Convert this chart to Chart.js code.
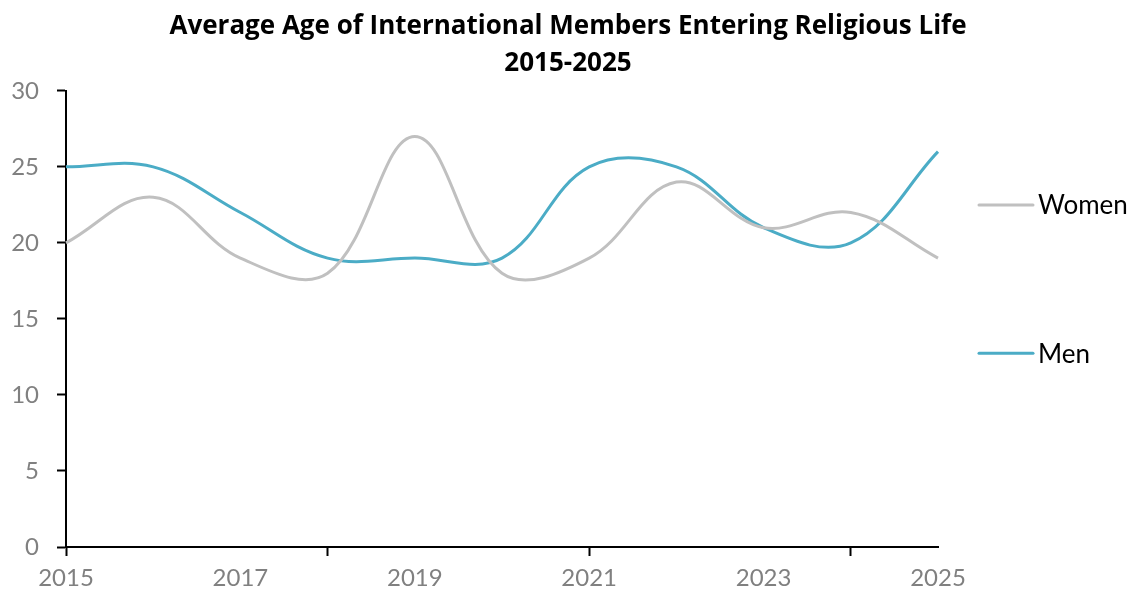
<!DOCTYPE html>
<html>
<head>
<meta charset="utf-8">
<title>Average Age of International Members Entering Religious Life</title>
<script src="https://cdn.jsdelivr.net/npm/chart.js@4.4.1/dist/chart.umd.min.js"></script>
<style>
  html, body { margin: 0; padding: 0; background: #fff; }
  #wrap { width: 1136px; height: 599px; position: relative; }
</style>
</head>
<body>
<div id="wrap"><canvas id="ageChart"></canvas></div>
<script>
// Dados do gráfico
const years = ['2015', '2016', '2017', '2018', '2019', '2020', '2021', '2022', '2023', '2024', '2025'];
const women = [20, 23, 19, 18, 27, 18, 19, 24, 21, 22, 19];
const men = [25, 25, 22, 19, 19, 19, 25, 25, 21, 20, 26];
const yTicks = [0, 5, 10, 15, 20, 25, 30];

const FONT = 'Lato, "Open Sans", sans-serif';
const TITLE_FONT = '"Open Sans", Lato, sans-serif';

// Legenda lateral com as linhas de cada série
const sideLegend = {
    id: 'sideLegend',
    afterDraw(chart) {
        const { ctx, chartArea } = chart;
        const h = chartArea.bottom - chartArea.top;
        const slots = [0.25, 0.575];
        ctx.save();
        chart.data.datasets.forEach((ds, i) => {
            const y = chartArea.top + h * slots[i];
            const x0 = chartArea.right + 41;
            ctx.strokeStyle = ds.borderColor;
            ctx.lineWidth = 3;
            ctx.lineCap = 'round';
            ctx.beginPath();
            ctx.moveTo(x0, y);
            ctx.lineTo(x0 + 54, y);
            ctx.stroke();
            ctx.fillStyle = '#000';
            ctx.font = '26px ' + FONT;
            ctx.textBaseline = 'middle';
            ctx.textAlign = 'left';
            ctx.fillText(ds.label, x0 + 59, y + 1);
        });
        ctx.restore();
    }
};

function initChart() {
    const ctx = document.getElementById('ageChart').getContext('2d');
    return new Chart(ctx, {
        type: 'line',
        data: {
            labels: years,
            datasets: [
                {
                    label: 'Women',
                    data: women,
                    borderColor: '#C0C0C0',
                    borderWidth: 3,
                    pointRadius: 0,
                    tension: 0.38,
                    fill: false
                },
                {
                    label: 'Men',
                    data: men,
                    borderColor: '#4BACC6',
                    borderWidth: 3,
                    pointRadius: 0,
                    tension: 0.38,
                    fill: false
                }
            ]
        },
        options: {
            responsive: true,
            maintainAspectRatio: false,
            animation: false,
            layout: {
                padding: { top: 8, right: 0, bottom: 0, left: 0 }
            },
            plugins: {
                legend: { display: false },
                tooltip: { enabled: false },
                title: {
                    display: true,
                    text: ['Average Age of International Members Entering Religious Life', '2015-2025'],
                    color: '#000',
                    font: { family: TITLE_FONT, size: 26, weight: 'bold', lineHeight: 1.42 },
                    padding: { top: 0, bottom: 9 }
                }
            },
            scales: {
                x: {
                    type: 'category',
                    offset: false,
                    border: { color: '#000', width: 2 },
                    grid: {
                        drawOnChartArea: false,
                        tickLength: 9,
                        tickWidth: 2,
                        tickColor: (c) => (c.index % 3 === 0 ? '#000' : 'rgba(0,0,0,0)')
                    },
                    ticks: {
                        autoSkip: false,
                        maxRotation: 0,
                        padding: 8,
                        color: '#808080',
                        font: { family: FONT, size: 24 },
                        callback: function(value, index) {
                            return index % 2 === 0 ? this.getLabelForValue(value) : '';
                        }
                    },
                    afterFit: (scale) => { scale.height = 52; }
                },
                y: {
                    min: yTicks[0],
                    max: yTicks[yTicks.length - 1],
                    border: { color: '#000', width: 2 },
                    grid: {
                        drawOnChartArea: false,
                        tickLength: 9,
                        tickWidth: 2,
                        tickColor: '#000'
                    },
                    afterBuildTicks: (scale) => {
                        scale.ticks = yTicks.map(v => ({ value: v }));
                    },
                    ticks: {
                        padding: 18,
                        color: '#808080',
                        font: { family: FONT, size: 24 }
                    },
                    afterFit: (scale) => { scale.width = 66; }
                },
                // eixo vazio à direita: reserva o espaço da legenda
                legendSpace: {
                    type: 'linear',
                    position: 'right',
                    display: true,
                    border: { display: false },
                    grid: { display: false },
                    ticks: { display: false },
                    afterFit: (scale) => { scale.width = 198; }
                }
            }
        },
        plugins: [sideLegend]
    });
}

document.addEventListener('DOMContentLoaded', initChart);
</script>
</body>
</html>
